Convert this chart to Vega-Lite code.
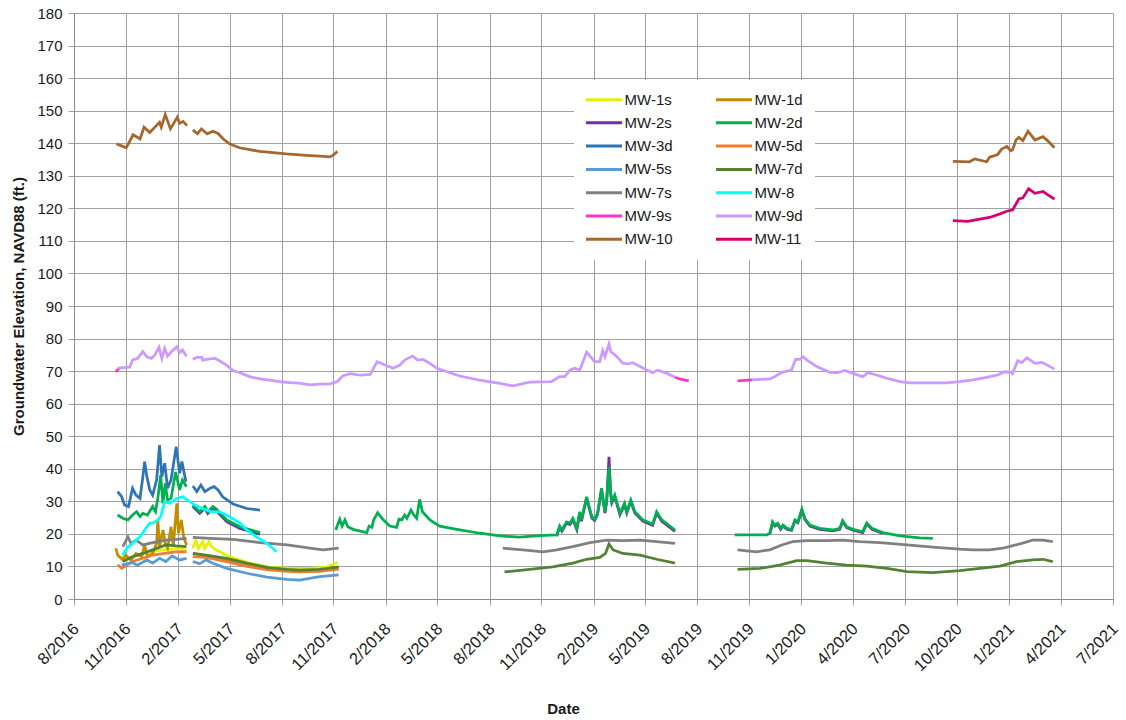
{
"$schema": "https://vega.github.io/schema/vega-lite/v6.json",
"width": 1039, "height": 586,
"autosize": {"type": "none"},
"padding": {"left": 74, "top": 13, "right": 13, "bottom": 121},
"background": "white",
"config": {"view": {"stroke": null}, "font": "Liberation Sans"},
"data": {"values": [
{"w":"MW-1s","s":1,"d":"2016-10-27","v":13.0},{"w":"MW-1s","s":1,"d":"2016-11-15","v":12.5},{"w":"MW-1s","s":1,"d":"2016-12-10","v":14.0},{"w":"MW-1s","s":1,"d":"2017-01-10","v":15.0},{"w":"MW-1s","s":1,"d":"2017-02-10","v":15.5},{"w":"MW-1s","s":1,"d":"2017-02-24","v":15.0},
{"w":"MW-1s","s":2,"d":"2017-03-07","v":15.6},{"w":"MW-1s","s":2,"d":"2017-03-12","v":18.1},{"w":"MW-1s","s":2,"d":"2017-03-17","v":15.6},{"w":"MW-1s","s":2,"d":"2017-03-24","v":17.6},{"w":"MW-1s","s":2,"d":"2017-03-28","v":15.6},{"w":"MW-1s","s":2,"d":"2017-04-04","v":17.6},{"w":"MW-1s","s":2,"d":"2017-04-09","v":16.1},{"w":"MW-1s","s":2,"d":"2017-04-16","v":15.1},{"w":"MW-1s","s":2,"d":"2017-04-23","v":14.5},{"w":"MW-1s","s":2,"d":"2017-05-10","v":13.0},{"w":"MW-1s","s":2,"d":"2017-06-14","v":11.0},{"w":"MW-1s","s":2,"d":"2017-07-19","v":9.8},{"w":"MW-1s","s":2,"d":"2017-08-23","v":9.4},{"w":"MW-1s","s":2,"d":"2017-09-27","v":9.4},{"w":"MW-1s","s":2,"d":"2017-10-26","v":9.8},{"w":"MW-1s","s":2,"d":"2017-11-14","v":11.3},
{"w":"MW-1d","s":1,"d":"2016-10-24","v":15.6},{"w":"MW-1d","s":1,"d":"2016-10-27","v":13.5},{"w":"MW-1d","s":1,"d":"2016-11-05","v":12.0},{"w":"MW-1d","s":1,"d":"2016-11-10","v":13.5},{"w":"MW-1d","s":1,"d":"2016-11-19","v":12.0},{"w":"MW-1d","s":1,"d":"2016-11-28","v":14.0},{"w":"MW-1d","s":1,"d":"2016-12-08","v":13.0},{"w":"MW-1d","s":1,"d":"2016-12-13","v":16.6},{"w":"MW-1d","s":1,"d":"2016-12-18","v":13.0},{"w":"MW-1d","s":1,"d":"2016-12-27","v":14.0},{"w":"MW-1d","s":1,"d":"2017-01-03","v":17.1},{"w":"MW-1d","s":1,"d":"2017-01-05","v":24.3},{"w":"MW-1d","s":1,"d":"2017-01-08","v":16.1},{"w":"MW-1d","s":1,"d":"2017-01-14","v":21.2},{"w":"MW-1d","s":1,"d":"2017-01-18","v":17.1},{"w":"MW-1d","s":1,"d":"2017-01-22","v":15.6},{"w":"MW-1d","s":1,"d":"2017-01-28","v":22.2},{"w":"MW-1d","s":1,"d":"2017-02-01","v":16.1},{"w":"MW-1d","s":1,"d":"2017-02-07","v":29.4},{"w":"MW-1d","s":1,"d":"2017-02-10","v":20.2},{"w":"MW-1d","s":1,"d":"2017-02-15","v":24.3},{"w":"MW-1d","s":1,"d":"2017-02-19","v":19.1},{"w":"MW-1d","s":1,"d":"2017-02-24","v":16.6},
{"w":"MW-1d","s":2,"d":"2017-03-07","v":14.0},{"w":"MW-1d","s":2,"d":"2017-03-30","v":13.3},{"w":"MW-1d","s":2,"d":"2017-05-05","v":12.0},{"w":"MW-1d","s":2,"d":"2017-06-09","v":10.7},{"w":"MW-1d","s":2,"d":"2017-07-14","v":9.4},{"w":"MW-1d","s":2,"d":"2017-08-18","v":8.9},{"w":"MW-1d","s":2,"d":"2017-09-09","v":8.7},{"w":"MW-1d","s":2,"d":"2017-10-14","v":8.9},{"w":"MW-1d","s":2,"d":"2017-11-16","v":9.5},
{"w":"MW-2s","s":1,"d":"2017-03-07","v":28.4},{"w":"MW-2s","s":1,"d":"2017-03-19","v":26.3},{"w":"MW-2s","s":1,"d":"2017-03-28","v":27.9},{"w":"MW-2s","s":1,"d":"2017-04-02","v":26.3},{"w":"MW-2s","s":1,"d":"2017-04-11","v":27.9},{"w":"MW-2s","s":1,"d":"2017-04-16","v":27.3},{"w":"MW-2s","s":1,"d":"2017-05-05","v":23.8},{"w":"MW-2s","s":1,"d":"2017-05-28","v":21.7},{"w":"MW-2s","s":1,"d":"2017-07-02","v":19.9},
{"w":"MW-2s","s":2,"d":"2018-12-01","v":19.3},{"w":"MW-2s","s":2,"d":"2018-12-06","v":22.0},{"w":"MW-2s","s":2,"d":"2018-12-10","v":20.8},{"w":"MW-2s","s":2,"d":"2018-12-18","v":23.3},{"w":"MW-2s","s":2,"d":"2018-12-24","v":22.9},{"w":"MW-2s","s":2,"d":"2018-12-29","v":24.4},{"w":"MW-2s","s":2,"d":"2019-01-05","v":21.3},{"w":"MW-2s","s":2,"d":"2019-01-10","v":26.4},{"w":"MW-2s","s":2,"d":"2019-01-13","v":23.9},{"w":"MW-2s","s":2,"d":"2019-01-22","v":31.0},{"w":"MW-2s","s":2,"d":"2019-01-31","v":24.9},{"w":"MW-2s","s":2,"d":"2019-02-05","v":24.1},{"w":"MW-2s","s":2,"d":"2019-02-10","v":25.9},{"w":"MW-2s","s":2,"d":"2019-02-17","v":33.6},{"w":"MW-2s","s":2,"d":"2019-02-23","v":26.4},{"w":"MW-2s","s":2,"d":"2019-02-26","v":30.0},{"w":"MW-2s","s":2,"d":"2019-03-02","v":43.7},{"w":"MW-2s","s":2,"d":"2019-03-05","v":32.1},{"w":"MW-2s","s":2,"d":"2019-03-07","v":29.5},{"w":"MW-2s","s":2,"d":"2019-03-12","v":31.5},{"w":"MW-2s","s":2,"d":"2019-03-21","v":25.9},{"w":"MW-2s","s":2,"d":"2019-03-29","v":29.0},{"w":"MW-2s","s":2,"d":"2019-04-02","v":26.4},{"w":"MW-2s","s":2,"d":"2019-04-09","v":30.0},{"w":"MW-2s","s":2,"d":"2019-04-16","v":26.4},{"w":"MW-2s","s":2,"d":"2019-04-30","v":23.9},{"w":"MW-2s","s":2,"d":"2019-05-17","v":22.6},{"w":"MW-2s","s":2,"d":"2019-05-24","v":26.4},{"w":"MW-2s","s":2,"d":"2019-06-02","v":23.9},{"w":"MW-2s","s":2,"d":"2019-06-25","v":20.8},
{"w":"MW-2s","s":3,"d":"2019-12-07","v":19.9},{"w":"MW-2s","s":3,"d":"2019-12-12","v":23.4},{"w":"MW-2s","s":3,"d":"2019-12-16","v":22.4},{"w":"MW-2s","s":3,"d":"2019-12-21","v":23.0},{"w":"MW-2s","s":3,"d":"2019-12-26","v":21.4},{"w":"MW-2s","s":3,"d":"2019-12-30","v":22.4},{"w":"MW-2s","s":3,"d":"2020-01-06","v":21.4},{"w":"MW-2s","s":3,"d":"2020-01-14","v":21.1},{"w":"MW-2s","s":3,"d":"2020-01-20","v":24.0},{"w":"MW-2s","s":3,"d":"2020-01-25","v":23.4},{"w":"MW-2s","s":3,"d":"2020-02-01","v":27.3},{"w":"MW-2s","s":3,"d":"2020-02-06","v":24.5},{"w":"MW-2s","s":3,"d":"2020-02-15","v":22.4},{"w":"MW-2s","s":3,"d":"2020-03-03","v":21.4},{"w":"MW-2s","s":3,"d":"2020-03-26","v":20.9},{"w":"MW-2s","s":3,"d":"2020-04-07","v":21.4},{"w":"MW-2s","s":3,"d":"2020-04-12","v":23.8},{"w":"MW-2s","s":3,"d":"2020-04-19","v":21.9},{"w":"MW-2s","s":3,"d":"2020-04-30","v":21.1},{"w":"MW-2s","s":3,"d":"2020-05-17","v":20.4},{"w":"MW-2s","s":3,"d":"2020-05-24","v":23.1},{"w":"MW-2s","s":3,"d":"2020-06-02","v":21.4},{"w":"MW-2s","s":3,"d":"2020-06-21","v":20.1},
{"w":"MW-2d","s":1,"d":"2016-10-27","v":25.8},{"w":"MW-2d","s":1,"d":"2016-11-05","v":24.8},{"w":"MW-2d","s":1,"d":"2016-11-14","v":24.3},{"w":"MW-2d","s":1,"d":"2016-11-22","v":25.8},{"w":"MW-2d","s":1,"d":"2016-11-29","v":26.8},{"w":"MW-2d","s":1,"d":"2016-12-05","v":25.3},{"w":"MW-2d","s":1,"d":"2016-12-10","v":26.3},{"w":"MW-2d","s":1,"d":"2016-12-18","v":25.8},{"w":"MW-2d","s":1,"d":"2016-12-27","v":28.4},{"w":"MW-2d","s":1,"d":"2017-01-01","v":26.8},{"w":"MW-2d","s":1,"d":"2017-01-05","v":30.9},{"w":"MW-2d","s":1,"d":"2017-01-10","v":38.0},{"w":"MW-2d","s":1,"d":"2017-01-14","v":29.4},{"w":"MW-2d","s":1,"d":"2017-01-18","v":35.5},{"w":"MW-2d","s":1,"d":"2017-01-22","v":30.4},{"w":"MW-2d","s":1,"d":"2017-01-28","v":30.9},{"w":"MW-2d","s":1,"d":"2017-02-05","v":39.0},{"w":"MW-2d","s":1,"d":"2017-02-12","v":33.5},{"w":"MW-2d","s":1,"d":"2017-02-17","v":36.6},{"w":"MW-2d","s":1,"d":"2017-02-24","v":34.5},
{"w":"MW-2d","s":2,"d":"2017-03-07","v":28.9},{"w":"MW-2d","s":2,"d":"2017-03-19","v":26.8},{"w":"MW-2d","s":2,"d":"2017-03-28","v":28.4},{"w":"MW-2d","s":2,"d":"2017-04-02","v":26.8},{"w":"MW-2d","s":2,"d":"2017-04-11","v":28.4},{"w":"MW-2d","s":2,"d":"2017-04-16","v":27.8},{"w":"MW-2d","s":2,"d":"2017-05-05","v":24.3},{"w":"MW-2d","s":2,"d":"2017-05-28","v":22.2},{"w":"MW-2d","s":2,"d":"2017-07-02","v":20.4},
{"w":"MW-2d","s":3,"d":"2017-11-11","v":21.2},{"w":"MW-2d","s":3,"d":"2017-11-14","v":22.7},{"w":"MW-2d","s":3,"d":"2017-11-18","v":24.5},{"w":"MW-2d","s":3,"d":"2017-11-22","v":22.4},{"w":"MW-2d","s":3,"d":"2017-11-27","v":24.3},{"w":"MW-2d","s":3,"d":"2017-12-02","v":22.2},{"w":"MW-2d","s":3,"d":"2017-12-11","v":21.4},{"w":"MW-2d","s":3,"d":"2018-01-04","v":20.4},{"w":"MW-2d","s":3,"d":"2018-01-08","v":22.4},{"w":"MW-2d","s":3,"d":"2018-01-13","v":22.0},{"w":"MW-2d","s":3,"d":"2018-01-16","v":24.3},{"w":"MW-2d","s":3,"d":"2018-01-23","v":26.5},{"w":"MW-2d","s":3,"d":"2018-02-01","v":24.5},{"w":"MW-2d","s":3,"d":"2018-02-13","v":22.4},{"w":"MW-2d","s":3,"d":"2018-02-25","v":22.0},{"w":"MW-2d","s":3,"d":"2018-03-01","v":24.5},{"w":"MW-2d","s":3,"d":"2018-03-06","v":24.3},{"w":"MW-2d","s":3,"d":"2018-03-11","v":25.8},{"w":"MW-2d","s":3,"d":"2018-03-15","v":24.8},{"w":"MW-2d","s":3,"d":"2018-03-22","v":27.3},{"w":"MW-2d","s":3,"d":"2018-03-27","v":25.8},{"w":"MW-2d","s":3,"d":"2018-04-01","v":24.8},{"w":"MW-2d","s":3,"d":"2018-04-06","v":30.6},{"w":"MW-2d","s":3,"d":"2018-04-11","v":26.8},{"w":"MW-2d","s":3,"d":"2018-04-24","v":24.3},{"w":"MW-2d","s":3,"d":"2018-05-11","v":22.4},{"w":"MW-2d","s":3,"d":"2018-06-10","v":21.4},{"w":"MW-2d","s":3,"d":"2018-07-20","v":20.2},{"w":"MW-2d","s":3,"d":"2018-08-24","v":19.4},{"w":"MW-2d","s":3,"d":"2018-09-27","v":19.0},{"w":"MW-2d","s":3,"d":"2018-10-20","v":19.3},{"w":"MW-2d","s":3,"d":"2018-11-19","v":19.6},{"w":"MW-2d","s":3,"d":"2018-12-01","v":19.7},{"w":"MW-2d","s":3,"d":"2018-12-06","v":22.4},{"w":"MW-2d","s":3,"d":"2018-12-10","v":21.2},{"w":"MW-2d","s":3,"d":"2018-12-18","v":23.7},{"w":"MW-2d","s":3,"d":"2018-12-24","v":23.3},{"w":"MW-2d","s":3,"d":"2018-12-29","v":24.8},{"w":"MW-2d","s":3,"d":"2019-01-05","v":21.7},{"w":"MW-2d","s":3,"d":"2019-01-10","v":26.8},{"w":"MW-2d","s":3,"d":"2019-01-13","v":24.3},{"w":"MW-2d","s":3,"d":"2019-01-22","v":31.4},{"w":"MW-2d","s":3,"d":"2019-01-31","v":25.3},{"w":"MW-2d","s":3,"d":"2019-02-05","v":24.5},{"w":"MW-2d","s":3,"d":"2019-02-10","v":26.3},{"w":"MW-2d","s":3,"d":"2019-02-17","v":34.0},{"w":"MW-2d","s":3,"d":"2019-02-23","v":26.8},{"w":"MW-2d","s":3,"d":"2019-02-26","v":30.4},{"w":"MW-2d","s":3,"d":"2019-03-02","v":40.6},{"w":"MW-2d","s":3,"d":"2019-03-05","v":32.5},{"w":"MW-2d","s":3,"d":"2019-03-07","v":29.9},{"w":"MW-2d","s":3,"d":"2019-03-12","v":31.9},{"w":"MW-2d","s":3,"d":"2019-03-21","v":26.3},{"w":"MW-2d","s":3,"d":"2019-03-29","v":29.4},{"w":"MW-2d","s":3,"d":"2019-04-02","v":26.8},{"w":"MW-2d","s":3,"d":"2019-04-09","v":30.4},{"w":"MW-2d","s":3,"d":"2019-04-16","v":26.8},{"w":"MW-2d","s":3,"d":"2019-04-30","v":24.3},{"w":"MW-2d","s":3,"d":"2019-05-17","v":23.0},{"w":"MW-2d","s":3,"d":"2019-05-24","v":26.8},{"w":"MW-2d","s":3,"d":"2019-06-02","v":24.3},{"w":"MW-2d","s":3,"d":"2019-06-25","v":21.2},
{"w":"MW-2d","s":4,"d":"2019-10-07","v":19.7},{"w":"MW-2d","s":4,"d":"2019-12-02","v":19.7},{"w":"MW-2d","s":4,"d":"2019-12-07","v":20.2},{"w":"MW-2d","s":4,"d":"2019-12-12","v":23.7},{"w":"MW-2d","s":4,"d":"2019-12-16","v":22.7},{"w":"MW-2d","s":4,"d":"2019-12-21","v":23.3},{"w":"MW-2d","s":4,"d":"2019-12-26","v":21.7},{"w":"MW-2d","s":4,"d":"2019-12-30","v":22.7},{"w":"MW-2d","s":4,"d":"2020-01-06","v":21.7},{"w":"MW-2d","s":4,"d":"2020-01-14","v":21.4},{"w":"MW-2d","s":4,"d":"2020-01-20","v":24.3},{"w":"MW-2d","s":4,"d":"2020-01-25","v":23.7},{"w":"MW-2d","s":4,"d":"2020-02-01","v":27.6},{"w":"MW-2d","s":4,"d":"2020-02-06","v":24.8},{"w":"MW-2d","s":4,"d":"2020-02-15","v":22.7},{"w":"MW-2d","s":4,"d":"2020-03-03","v":21.7},{"w":"MW-2d","s":4,"d":"2020-03-26","v":21.2},{"w":"MW-2d","s":4,"d":"2020-04-07","v":21.7},{"w":"MW-2d","s":4,"d":"2020-04-12","v":24.1},{"w":"MW-2d","s":4,"d":"2020-04-19","v":22.2},{"w":"MW-2d","s":4,"d":"2020-04-30","v":21.4},{"w":"MW-2d","s":4,"d":"2020-05-17","v":20.7},{"w":"MW-2d","s":4,"d":"2020-05-24","v":23.4},{"w":"MW-2d","s":4,"d":"2020-06-02","v":21.7},{"w":"MW-2d","s":4,"d":"2020-06-21","v":20.4},{"w":"MW-2d","s":4,"d":"2020-07-21","v":19.4},{"w":"MW-2d","s":4,"d":"2020-08-24","v":18.8},{"w":"MW-2d","s":4,"d":"2020-09-16","v":18.6},
{"w":"MW-3d","s":1,"d":"2016-10-27","v":33.0},{"w":"MW-3d","s":1,"d":"2016-11-03","v":31.4},{"w":"MW-3d","s":1,"d":"2016-11-08","v":28.9},{"w":"MW-3d","s":1,"d":"2016-11-15","v":28.4},{"w":"MW-3d","s":1,"d":"2016-11-22","v":34.0},{"w":"MW-3d","s":1,"d":"2016-11-28","v":31.9},{"w":"MW-3d","s":1,"d":"2016-12-05","v":30.9},{"w":"MW-3d","s":1,"d":"2016-12-10","v":37.6},{"w":"MW-3d","s":1,"d":"2016-12-13","v":42.2},{"w":"MW-3d","s":1,"d":"2016-12-17","v":37.6},{"w":"MW-3d","s":1,"d":"2016-12-22","v":33.5},{"w":"MW-3d","s":1,"d":"2016-12-27","v":31.9},{"w":"MW-3d","s":1,"d":"2017-01-03","v":36.6},{"w":"MW-3d","s":1,"d":"2017-01-08","v":47.3},{"w":"MW-3d","s":1,"d":"2017-01-12","v":37.6},{"w":"MW-3d","s":1,"d":"2017-01-17","v":41.7},{"w":"MW-3d","s":1,"d":"2017-01-22","v":34.0},{"w":"MW-3d","s":1,"d":"2017-01-28","v":36.6},{"w":"MW-3d","s":1,"d":"2017-02-06","v":46.8},{"w":"MW-3d","s":1,"d":"2017-02-12","v":38.6},{"w":"MW-3d","s":1,"d":"2017-02-16","v":42.2},{"w":"MW-3d","s":1,"d":"2017-02-23","v":36.0},
{"w":"MW-3d","s":2,"d":"2017-03-07","v":34.7},{"w":"MW-3d","s":2,"d":"2017-03-14","v":33.0},{"w":"MW-3d","s":2,"d":"2017-03-21","v":35.0},{"w":"MW-3d","s":2,"d":"2017-03-28","v":33.0},{"w":"MW-3d","s":2,"d":"2017-04-06","v":34.0},{"w":"MW-3d","s":2,"d":"2017-04-13","v":34.5},{"w":"MW-3d","s":2,"d":"2017-04-20","v":33.5},{"w":"MW-3d","s":2,"d":"2017-04-28","v":31.4},{"w":"MW-3d","s":2,"d":"2017-05-16","v":29.2},{"w":"MW-3d","s":2,"d":"2017-06-09","v":27.8},{"w":"MW-3d","s":2,"d":"2017-07-02","v":27.3},
{"w":"MW-5d","s":1,"d":"2016-10-27","v":10.5},{"w":"MW-5d","s":1,"d":"2016-11-03","v":9.4},{"w":"MW-5d","s":1,"d":"2016-11-10","v":10.2},{"w":"MW-5d","s":1,"d":"2016-11-22","v":11.5},{"w":"MW-5d","s":1,"d":"2016-12-10","v":12.5},{"w":"MW-5d","s":1,"d":"2016-12-27","v":13.5},{"w":"MW-5d","s":1,"d":"2017-01-17","v":14.0},{"w":"MW-5d","s":1,"d":"2017-02-05","v":14.5},{"w":"MW-5d","s":1,"d":"2017-02-24","v":14.5},
{"w":"MW-5d","s":2,"d":"2017-03-07","v":13.0},{"w":"MW-5d","s":2,"d":"2017-03-30","v":12.8},{"w":"MW-5d","s":2,"d":"2017-05-05","v":11.5},{"w":"MW-5d","s":2,"d":"2017-06-09","v":10.0},{"w":"MW-5d","s":2,"d":"2017-07-14","v":9.0},{"w":"MW-5d","s":2,"d":"2017-08-18","v":8.5},{"w":"MW-5d","s":2,"d":"2017-09-09","v":8.3},{"w":"MW-5d","s":2,"d":"2017-10-14","v":8.5},{"w":"MW-5d","s":2,"d":"2017-11-16","v":9.2},
{"w":"MW-5s","s":1,"d":"2016-11-03","v":10.4},{"w":"MW-5s","s":1,"d":"2016-11-22","v":11.2},{"w":"MW-5s","s":1,"d":"2016-11-30","v":10.4},{"w":"MW-5s","s":1,"d":"2016-12-17","v":12.0},{"w":"MW-5s","s":1,"d":"2016-12-27","v":11.0},{"w":"MW-5s","s":1,"d":"2017-01-08","v":12.5},{"w":"MW-5s","s":1,"d":"2017-01-19","v":11.5},{"w":"MW-5s","s":1,"d":"2017-01-30","v":13.2},{"w":"MW-5s","s":1,"d":"2017-02-12","v":12.0},{"w":"MW-5s","s":1,"d":"2017-02-24","v":12.5},
{"w":"MW-5s","s":2,"d":"2017-03-07","v":11.5},{"w":"MW-5s","s":2,"d":"2017-03-19","v":10.8},{"w":"MW-5s","s":2,"d":"2017-03-30","v":12.0},{"w":"MW-5s","s":2,"d":"2017-04-11","v":11.0},{"w":"MW-5s","s":2,"d":"2017-05-05","v":9.4},{"w":"MW-5s","s":2,"d":"2017-06-09","v":7.9},{"w":"MW-5s","s":2,"d":"2017-07-14","v":6.7},{"w":"MW-5s","s":2,"d":"2017-08-18","v":6.0},{"w":"MW-5s","s":2,"d":"2017-09-09","v":5.8},{"w":"MW-5s","s":2,"d":"2017-10-14","v":6.9},{"w":"MW-5s","s":2,"d":"2017-11-16","v":7.4},
{"w":"MW-7d","s":1,"d":"2016-11-05","v":11.5},{"w":"MW-7d","s":1,"d":"2016-11-22","v":13.0},{"w":"MW-7d","s":1,"d":"2016-12-10","v":14.0},{"w":"MW-7d","s":1,"d":"2016-12-27","v":15.1},{"w":"MW-7d","s":1,"d":"2017-01-19","v":16.6},{"w":"MW-7d","s":1,"d":"2017-02-06","v":16.3},{"w":"MW-7d","s":1,"d":"2017-02-24","v":16.1},
{"w":"MW-7d","s":2,"d":"2017-03-07","v":14.0},{"w":"MW-7d","s":2,"d":"2017-03-30","v":13.5},{"w":"MW-7d","s":2,"d":"2017-05-05","v":12.5},{"w":"MW-7d","s":2,"d":"2017-06-09","v":11.0},{"w":"MW-7d","s":2,"d":"2017-07-14","v":9.7},{"w":"MW-7d","s":2,"d":"2017-08-18","v":9.1},{"w":"MW-7d","s":2,"d":"2017-09-09","v":8.9},{"w":"MW-7d","s":2,"d":"2017-10-14","v":9.1},{"w":"MW-7d","s":2,"d":"2017-11-16","v":9.9},
{"w":"MW-7d","s":3,"d":"2018-09-01","v":8.3},{"w":"MW-7d","s":3,"d":"2018-10-15","v":9.1},{"w":"MW-7d","s":3,"d":"2018-11-24","v":9.9},{"w":"MW-7d","s":3,"d":"2018-12-29","v":11.0},{"w":"MW-7d","s":3,"d":"2019-01-22","v":12.2},{"w":"MW-7d","s":3,"d":"2019-02-14","v":12.8},{"w":"MW-7d","s":3,"d":"2019-02-24","v":14.0},{"w":"MW-7d","s":3,"d":"2019-03-02","v":16.9},{"w":"MW-7d","s":3,"d":"2019-03-09","v":15.1},{"w":"MW-7d","s":3,"d":"2019-03-26","v":14.0},{"w":"MW-7d","s":3,"d":"2019-04-25","v":13.5},{"w":"MW-7d","s":3,"d":"2019-05-24","v":12.2},{"w":"MW-7d","s":3,"d":"2019-06-25","v":11.0},
{"w":"MW-7d","s":4,"d":"2019-10-12","v":9.1},{"w":"MW-7d","s":4,"d":"2019-11-20","v":9.4},{"w":"MW-7d","s":4,"d":"2019-12-24","v":10.4},{"w":"MW-7d","s":4,"d":"2020-01-23","v":11.8},{"w":"MW-7d","s":4,"d":"2020-02-10","v":11.8},{"w":"MW-7d","s":4,"d":"2020-03-15","v":11.0},{"w":"MW-7d","s":4,"d":"2020-04-19","v":10.4},{"w":"MW-7d","s":4,"d":"2020-05-24","v":10.1},{"w":"MW-7d","s":4,"d":"2020-06-28","v":9.4},{"w":"MW-7d","s":4,"d":"2020-08-02","v":8.4},{"w":"MW-7d","s":4,"d":"2020-09-16","v":8.1},{"w":"MW-7d","s":4,"d":"2020-11-02","v":8.7},{"w":"MW-7d","s":4,"d":"2020-12-07","v":9.4},{"w":"MW-7d","s":4,"d":"2021-01-11","v":10.1},{"w":"MW-7d","s":4,"d":"2021-02-09","v":11.5},{"w":"MW-7d","s":4,"d":"2021-03-09","v":12.0},{"w":"MW-7d","s":4,"d":"2021-03-27","v":12.2},{"w":"MW-7d","s":4,"d":"2021-04-13","v":11.5},
{"w":"MW-7s","s":1,"d":"2016-11-05","v":16.1},{"w":"MW-7s","s":1,"d":"2016-11-14","v":19.1},{"w":"MW-7s","s":1,"d":"2016-11-19","v":17.1},{"w":"MW-7s","s":1,"d":"2016-11-28","v":18.1},{"w":"MW-7s","s":1,"d":"2016-12-10","v":16.6},{"w":"MW-7s","s":1,"d":"2016-12-27","v":17.3},{"w":"MW-7s","s":1,"d":"2017-01-19","v":18.1},{"w":"MW-7s","s":1,"d":"2017-02-06","v":18.3},{"w":"MW-7s","s":1,"d":"2017-02-24","v":18.6},
{"w":"MW-7s","s":2,"d":"2017-03-07","v":18.9},{"w":"MW-7s","s":2,"d":"2017-04-06","v":18.6},{"w":"MW-7s","s":2,"d":"2017-05-16","v":18.3},{"w":"MW-7s","s":2,"d":"2017-07-02","v":17.3},{"w":"MW-7s","s":2,"d":"2017-08-18","v":16.6},{"w":"MW-7s","s":2,"d":"2017-09-09","v":16.1},{"w":"MW-7s","s":2,"d":"2017-09-27","v":15.6},{"w":"MW-7s","s":2,"d":"2017-10-20","v":15.1},{"w":"MW-7s","s":2,"d":"2017-11-16","v":15.6},
{"w":"MW-7s","s":3,"d":"2018-08-29","v":15.6},{"w":"MW-7s","s":3,"d":"2018-10-03","v":15.1},{"w":"MW-7s","s":3,"d":"2018-11-07","v":14.5},{"w":"MW-7s","s":3,"d":"2018-12-01","v":15.1},{"w":"MW-7s","s":3,"d":"2018-12-29","v":16.1},{"w":"MW-7s","s":3,"d":"2019-01-28","v":17.3},{"w":"MW-7s","s":3,"d":"2019-02-26","v":18.1},{"w":"MW-7s","s":3,"d":"2019-03-26","v":17.9},{"w":"MW-7s","s":3,"d":"2019-04-25","v":18.1},{"w":"MW-7s","s":3,"d":"2019-05-24","v":17.6},{"w":"MW-7s","s":3,"d":"2019-06-25","v":17.1},
{"w":"MW-7s","s":4,"d":"2019-10-12","v":15.1},{"w":"MW-7s","s":4,"d":"2019-11-14","v":14.5},{"w":"MW-7s","s":4,"d":"2019-12-07","v":15.1},{"w":"MW-7s","s":4,"d":"2019-12-28","v":16.6},{"w":"MW-7s","s":4,"d":"2020-01-16","v":17.6},{"w":"MW-7s","s":4,"d":"2020-02-10","v":17.9},{"w":"MW-7s","s":4,"d":"2020-03-15","v":17.9},{"w":"MW-7s","s":4,"d":"2020-04-12","v":18.1},{"w":"MW-7s","s":4,"d":"2020-05-12","v":17.6},{"w":"MW-7s","s":4,"d":"2020-06-16","v":17.3},{"w":"MW-7s","s":4,"d":"2020-08-02","v":16.6},{"w":"MW-7s","s":4,"d":"2020-09-16","v":15.9},{"w":"MW-7s","s":4,"d":"2020-11-02","v":15.3},{"w":"MW-7s","s":4,"d":"2020-11-25","v":15.1},{"w":"MW-7s","s":4,"d":"2020-12-24","v":15.1},{"w":"MW-7s","s":4,"d":"2021-01-16","v":15.6},{"w":"MW-7s","s":4,"d":"2021-02-01","v":16.3},{"w":"MW-7s","s":4,"d":"2021-02-18","v":17.1},{"w":"MW-7s","s":4,"d":"2021-03-09","v":18.1},{"w":"MW-7s","s":4,"d":"2021-03-27","v":18.1},{"w":"MW-7s","s":4,"d":"2021-04-13","v":17.6},
{"w":"MW-8","s":1,"d":"2016-11-05","v":13.5},{"w":"MW-8","s":1,"d":"2016-11-12","v":15.6},{"w":"MW-8","s":1,"d":"2016-11-22","v":17.1},{"w":"MW-8","s":1,"d":"2016-12-05","v":19.1},{"w":"MW-8","s":1,"d":"2016-12-17","v":22.2},{"w":"MW-8","s":1,"d":"2016-12-22","v":23.3},{"w":"MW-8","s":1,"d":"2016-12-27","v":23.3},{"w":"MW-8","s":1,"d":"2017-01-05","v":24.3},{"w":"MW-8","s":1,"d":"2017-01-10","v":25.3},{"w":"MW-8","s":1,"d":"2017-01-17","v":29.9},{"w":"MW-8","s":1,"d":"2017-01-26","v":29.4},{"w":"MW-8","s":1,"d":"2017-02-07","v":30.9},{"w":"MW-8","s":1,"d":"2017-02-18","v":31.4},{"w":"MW-8","s":1,"d":"2017-02-26","v":30.4},{"w":"MW-8","s":1,"d":"2017-03-10","v":28.9},{"w":"MW-8","s":1,"d":"2017-03-24","v":27.8},{"w":"MW-8","s":1,"d":"2017-04-08","v":26.8},{"w":"MW-8","s":1,"d":"2017-04-23","v":26.8},{"w":"MW-8","s":1,"d":"2017-05-10","v":25.3},{"w":"MW-8","s":1,"d":"2017-05-28","v":23.3},{"w":"MW-8","s":1,"d":"2017-06-09","v":21.2},{"w":"MW-8","s":1,"d":"2017-06-26","v":19.1},{"w":"MW-8","s":1,"d":"2017-07-14","v":17.1},{"w":"MW-8","s":1,"d":"2017-07-31","v":14.5},
{"w":"MW-9s","s":1,"d":"2016-10-24","v":69.8},{"w":"MW-9s","s":1,"d":"2016-10-31","v":71.0},
{"w":"MW-9s","s":2,"d":"2019-06-25","v":68.1},{"w":"MW-9s","s":2,"d":"2019-07-03","v":67.6},{"w":"MW-9s","s":2,"d":"2019-07-19","v":67.0},
{"w":"MW-9s","s":3,"d":"2019-10-12","v":67.0},{"w":"MW-9s","s":3,"d":"2019-11-06","v":67.3},
{"w":"MW-9d","s":1,"d":"2016-10-27","v":70.9},{"w":"MW-9d","s":1,"d":"2016-11-17","v":71.2},{"w":"MW-9d","s":1,"d":"2016-11-22","v":73.4},{"w":"MW-9d","s":1,"d":"2016-12-01","v":73.9},{"w":"MW-9d","s":1,"d":"2016-12-10","v":76.0},{"w":"MW-9d","s":1,"d":"2016-12-17","v":74.4},{"w":"MW-9d","s":1,"d":"2016-12-25","v":73.9},{"w":"MW-9d","s":1,"d":"2016-12-31","v":75.0},{"w":"MW-9d","s":1,"d":"2017-01-07","v":77.3},{"w":"MW-9d","s":1,"d":"2017-01-12","v":73.9},{"w":"MW-9d","s":1,"d":"2017-01-17","v":77.0},{"w":"MW-9d","s":1,"d":"2017-01-22","v":74.6},{"w":"MW-9d","s":1,"d":"2017-01-29","v":76.0},{"w":"MW-9d","s":1,"d":"2017-02-07","v":77.5},{"w":"MW-9d","s":1,"d":"2017-02-12","v":75.7},{"w":"MW-9d","s":1,"d":"2017-02-17","v":76.5},{"w":"MW-9d","s":1,"d":"2017-02-24","v":74.6},
{"w":"MW-9d","s":2,"d":"2017-03-07","v":73.6},{"w":"MW-9d","s":2,"d":"2017-03-14","v":74.2},{"w":"MW-9d","s":2,"d":"2017-03-23","v":74.2},{"w":"MW-9d","s":2,"d":"2017-03-24","v":73.4},{"w":"MW-9d","s":2,"d":"2017-04-02","v":73.7},{"w":"MW-9d","s":2,"d":"2017-04-15","v":73.9},{"w":"MW-9d","s":2,"d":"2017-04-23","v":73.1},{"w":"MW-9d","s":2,"d":"2017-05-05","v":71.8},{"w":"MW-9d","s":2,"d":"2017-05-16","v":70.2},{"w":"MW-9d","s":2,"d":"2017-05-28","v":69.5},{"w":"MW-9d","s":2,"d":"2017-06-14","v":68.3},{"w":"MW-9d","s":2,"d":"2017-07-02","v":67.6},{"w":"MW-9d","s":2,"d":"2017-07-19","v":67.2},{"w":"MW-9d","s":2,"d":"2017-08-05","v":66.8},{"w":"MW-9d","s":2,"d":"2017-08-23","v":66.5},{"w":"MW-9d","s":2,"d":"2017-09-09","v":66.3},{"w":"MW-9d","s":2,"d":"2017-09-27","v":65.8},{"w":"MW-9d","s":2,"d":"2017-10-14","v":66.0},{"w":"MW-9d","s":2,"d":"2017-11-01","v":66.1},{"w":"MW-9d","s":2,"d":"2017-11-14","v":66.8},{"w":"MW-9d","s":2,"d":"2017-11-23","v":68.5},{"w":"MW-9d","s":2,"d":"2017-12-06","v":69.2},{"w":"MW-9d","s":2,"d":"2017-12-23","v":68.8},{"w":"MW-9d","s":2,"d":"2018-01-10","v":69.0},{"w":"MW-9d","s":2,"d":"2018-01-22","v":72.9},{"w":"MW-9d","s":2,"d":"2018-02-05","v":71.9},{"w":"MW-9d","s":2,"d":"2018-02-19","v":70.9},{"w":"MW-9d","s":2,"d":"2018-03-03","v":71.9},{"w":"MW-9d","s":2,"d":"2018-03-11","v":73.4},{"w":"MW-9d","s":2,"d":"2018-03-25","v":74.6},{"w":"MW-9d","s":2,"d":"2018-04-03","v":73.4},{"w":"MW-9d","s":2,"d":"2018-04-12","v":73.6},{"w":"MW-9d","s":2,"d":"2018-04-24","v":72.4},{"w":"MW-9d","s":2,"d":"2018-05-06","v":70.9},{"w":"MW-9d","s":2,"d":"2018-05-29","v":69.5},{"w":"MW-9d","s":2,"d":"2018-06-15","v":68.5},{"w":"MW-9d","s":2,"d":"2018-07-20","v":67.2},{"w":"MW-9d","s":2,"d":"2018-08-24","v":66.2},{"w":"MW-9d","s":2,"d":"2018-09-15","v":65.5},{"w":"MW-9d","s":2,"d":"2018-10-15","v":66.6},{"w":"MW-9d","s":2,"d":"2018-11-22","v":66.8},{"w":"MW-9d","s":2,"d":"2018-12-06","v":68.3},{"w":"MW-9d","s":2,"d":"2018-12-15","v":68.3},{"w":"MW-9d","s":2,"d":"2018-12-24","v":70.3},{"w":"MW-9d","s":2,"d":"2019-01-01","v":70.9},{"w":"MW-9d","s":2,"d":"2019-01-10","v":70.3},{"w":"MW-9d","s":2,"d":"2019-01-22","v":75.8},{"w":"MW-9d","s":2,"d":"2019-02-05","v":72.9},{"w":"MW-9d","s":2,"d":"2019-02-14","v":72.9},{"w":"MW-9d","s":2,"d":"2019-02-19","v":76.3},{"w":"MW-9d","s":2,"d":"2019-02-23","v":74.4},{"w":"MW-9d","s":2,"d":"2019-03-02","v":78.3},{"w":"MW-9d","s":2,"d":"2019-03-05","v":76.0},{"w":"MW-9d","s":2,"d":"2019-03-16","v":74.4},{"w":"MW-9d","s":2,"d":"2019-03-26","v":72.4},{"w":"MW-9d","s":2,"d":"2019-04-04","v":72.2},{"w":"MW-9d","s":2,"d":"2019-04-12","v":72.6},{"w":"MW-9d","s":2,"d":"2019-04-25","v":71.4},{"w":"MW-9d","s":2,"d":"2019-05-07","v":70.3},{"w":"MW-9d","s":2,"d":"2019-05-17","v":69.5},{"w":"MW-9d","s":2,"d":"2019-05-26","v":70.3},{"w":"MW-9d","s":2,"d":"2019-06-11","v":69.3},{"w":"MW-9d","s":2,"d":"2019-06-25","v":68.1},
{"w":"MW-9d","s":3,"d":"2019-11-06","v":67.3},{"w":"MW-9d","s":3,"d":"2019-12-07","v":67.6},{"w":"MW-9d","s":3,"d":"2019-12-16","v":68.3},{"w":"MW-9d","s":3,"d":"2019-12-28","v":69.6},{"w":"MW-9d","s":3,"d":"2020-01-14","v":70.3},{"w":"MW-9d","s":3,"d":"2020-01-21","v":73.6},{"w":"MW-9d","s":3,"d":"2020-01-28","v":73.6},{"w":"MW-9d","s":3,"d":"2020-02-03","v":74.4},{"w":"MW-9d","s":3,"d":"2020-02-10","v":73.4},{"w":"MW-9d","s":3,"d":"2020-02-27","v":71.4},{"w":"MW-9d","s":3,"d":"2020-03-21","v":69.6},{"w":"MW-9d","s":3,"d":"2020-04-03","v":69.5},{"w":"MW-9d","s":3,"d":"2020-04-16","v":70.2},{"w":"MW-9d","s":3,"d":"2020-04-30","v":69.3},{"w":"MW-9d","s":3,"d":"2020-05-17","v":68.3},{"w":"MW-9d","s":3,"d":"2020-05-26","v":69.5},{"w":"MW-9d","s":3,"d":"2020-06-10","v":68.8},{"w":"MW-9d","s":3,"d":"2020-06-28","v":67.8},{"w":"MW-9d","s":3,"d":"2020-07-21","v":66.8},{"w":"MW-9d","s":3,"d":"2020-08-07","v":66.4},{"w":"MW-9d","s":3,"d":"2020-09-05","v":66.4},{"w":"MW-9d","s":3,"d":"2020-10-10","v":66.4},{"w":"MW-9d","s":3,"d":"2020-11-02","v":66.8},{"w":"MW-9d","s":3,"d":"2020-11-25","v":67.3},{"w":"MW-9d","s":3,"d":"2020-12-19","v":68.1},{"w":"MW-9d","s":3,"d":"2021-01-07","v":68.8},{"w":"MW-9d","s":3,"d":"2021-01-19","v":69.8},{"w":"MW-9d","s":3,"d":"2021-02-01","v":69.6},{"w":"MW-9d","s":3,"d":"2021-02-02","v":69.3},{"w":"MW-9d","s":3,"d":"2021-02-11","v":73.2},{"w":"MW-9d","s":3,"d":"2021-02-18","v":72.6},{"w":"MW-9d","s":3,"d":"2021-02-27","v":74.1},{"w":"MW-9d","s":3,"d":"2021-03-13","v":72.4},{"w":"MW-9d","s":3,"d":"2021-03-25","v":72.7},{"w":"MW-9d","s":3,"d":"2021-04-03","v":71.9},{"w":"MW-9d","s":3,"d":"2021-04-16","v":70.6},
{"w":"MW-10","s":1,"d":"2016-10-25","v":139.8},{"w":"MW-10","s":1,"d":"2016-11-11","v":138.6},{"w":"MW-10","s":1,"d":"2016-11-23","v":142.6},{"w":"MW-10","s":1,"d":"2016-12-05","v":141.3},{"w":"MW-10","s":1,"d":"2016-12-12","v":144.9},{"w":"MW-10","s":1,"d":"2016-12-22","v":143.3},{"w":"MW-10","s":1,"d":"2017-01-08","v":146.4},{"w":"MW-10","s":1,"d":"2017-01-11","v":144.9},{"w":"MW-10","s":1,"d":"2017-01-18","v":148.8},{"w":"MW-10","s":1,"d":"2017-01-27","v":144.4},{"w":"MW-10","s":1,"d":"2017-02-08","v":148.0},{"w":"MW-10","s":1,"d":"2017-02-12","v":146.1},{"w":"MW-10","s":1,"d":"2017-02-18","v":146.7},{"w":"MW-10","s":1,"d":"2017-02-25","v":145.4},
{"w":"MW-10","s":2,"d":"2017-03-07","v":144.1},{"w":"MW-10","s":2,"d":"2017-03-15","v":142.9},{"w":"MW-10","s":2,"d":"2017-03-22","v":144.4},{"w":"MW-10","s":2,"d":"2017-04-01","v":142.9},{"w":"MW-10","s":2,"d":"2017-04-11","v":143.7},{"w":"MW-10","s":2,"d":"2017-04-20","v":143.0},{"w":"MW-10","s":2,"d":"2017-04-29","v":141.3},{"w":"MW-10","s":2,"d":"2017-05-10","v":139.8},{"w":"MW-10","s":2,"d":"2017-05-27","v":138.6},{"w":"MW-10","s":2,"d":"2017-07-01","v":137.5},{"w":"MW-10","s":2,"d":"2017-08-17","v":136.7},{"w":"MW-10","s":2,"d":"2017-09-21","v":136.3},{"w":"MW-10","s":2,"d":"2017-10-14","v":136.0},{"w":"MW-10","s":2,"d":"2017-11-01","v":135.8},{"w":"MW-10","s":2,"d":"2017-11-07","v":136.4},{"w":"MW-10","s":2,"d":"2017-11-14","v":137.5},
{"w":"MW-10","s":3,"d":"2020-10-21","v":134.4},{"w":"MW-10","s":3,"d":"2020-11-19","v":134.3},{"w":"MW-10","s":3,"d":"2020-11-28","v":135.2},{"w":"MW-10","s":3,"d":"2020-12-19","v":134.3},{"w":"MW-10","s":3,"d":"2020-12-24","v":135.7},{"w":"MW-10","s":3,"d":"2021-01-02","v":136.2},{"w":"MW-10","s":3,"d":"2021-01-07","v":136.5},{"w":"MW-10","s":3,"d":"2021-01-14","v":138.2},{"w":"MW-10","s":3,"d":"2021-01-23","v":139.0},{"w":"MW-10","s":3,"d":"2021-01-30","v":137.7},{"w":"MW-10","s":3,"d":"2021-02-02","v":138.0},{"w":"MW-10","s":3,"d":"2021-02-08","v":141.0},{"w":"MW-10","s":3,"d":"2021-02-13","v":141.8},{"w":"MW-10","s":3,"d":"2021-02-20","v":140.8},{"w":"MW-10","s":3,"d":"2021-03-01","v":143.7},{"w":"MW-10","s":3,"d":"2021-03-13","v":141.0},{"w":"MW-10","s":3,"d":"2021-03-27","v":142.0},{"w":"MW-10","s":3,"d":"2021-04-04","v":140.8},{"w":"MW-10","s":3,"d":"2021-04-16","v":138.6},
{"w":"MW-11","s":1,"d":"2020-10-21","v":116.2},{"w":"MW-11","s":1,"d":"2020-11-16","v":116.0},{"w":"MW-11","s":1,"d":"2020-12-07","v":116.7},{"w":"MW-11","s":1,"d":"2020-12-24","v":117.2},{"w":"MW-11","s":1,"d":"2021-01-11","v":118.3},{"w":"MW-11","s":1,"d":"2021-01-23","v":119.1},{"w":"MW-11","s":1,"d":"2021-02-02","v":119.5},{"w":"MW-11","s":1,"d":"2021-02-13","v":122.9},{"w":"MW-11","s":1,"d":"2021-02-20","v":123.2},{"w":"MW-11","s":1,"d":"2021-03-02","v":126.0},{"w":"MW-11","s":1,"d":"2021-03-13","v":124.6},{"w":"MW-11","s":1,"d":"2021-03-27","v":125.2},{"w":"MW-11","s":1,"d":"2021-04-04","v":124.2},{"w":"MW-11","s":1,"d":"2021-04-16","v":122.8}
]},
"mark": {"type": "line", "strokeWidth": 2.75},
"encoding": {
  "x": {"field": "d", "type": "temporal",
    "scale": {"type": "utc", "domain": [{"year":2016,"month":8,"date":12,"utc":true},{"year":2021,"month":7,"date":27,"utc":true}]},
    "axis": {"values": [{"year":2016,"month":8,"date":12,"utc":true},{"year":2016,"month":11,"date":10,"utc":true},{"year":2017,"month":2,"date":9,"utc":true},{"year":2017,"month":5,"date":10,"utc":true},{"year":2017,"month":8,"date":9,"utc":true},{"year":2017,"month":11,"date":7,"utc":true},{"year":2018,"month":2,"date":6,"utc":true},{"year":2018,"month":5,"date":7,"utc":true},{"year":2018,"month":8,"date":6,"utc":true},{"year":2018,"month":11,"date":4,"utc":true},{"year":2019,"month":2,"date":3,"utc":true},{"year":2019,"month":5,"date":4,"utc":true},{"year":2019,"month":8,"date":3,"utc":true},{"year":2019,"month":11,"date":1,"utc":true},{"year":2020,"month":1,"date":31,"utc":true},{"year":2020,"month":4,"date":30,"utc":true},{"year":2020,"month":7,"date":30,"utc":true},{"year":2020,"month":10,"date":28,"utc":true},{"year":2021,"month":1,"date":27,"utc":true},{"year":2021,"month":4,"date":27,"utc":true},{"year":2021,"month":7,"date":27,"utc":true}],
      "labelExpr": "utcFormat(datum.value, '%-m/%Y')",
      "labelAngle": -45, "labelAlign": "right", "labelBaseline": "middle",
      "labelFontSize": 16.5, "labelColor": "#1a1a1a", "labelPadding": 21, "labelOffset": 2, "labelOverlap": false, "labelFlush": false, "labelBound": false,
      "grid": true, "gridColor": "#a0a0a0", "gridWidth": 1,
      "tickColor": "#a0a0a0", "tickSize": 6, "domainColor": "#8c8c8c",
      "title": "Date", "titleFontSize": 15, "titleFontWeight": "bold", "titleColor": "#1a1a1a",
      "titleX": 489, "titleY": 109, "titleAlign": "center", "titleBaseline": "middle"}},
  "y": {"field": "v", "type": "quantitative",
    "scale": {"domain": [0, 180], "nice": false},
    "axis": {"values": [0,10,20,30,40,50,60,70,80,90,100,110,120,130,140,150,160,170,180],
      "labelFontSize": 15, "labelColor": "#1a1a1a", "labelPadding": 6, "labelFlush": false,
      "grid": true, "gridColor": "#a0a0a0", "gridWidth": 1,
      "tickColor": "#a0a0a0", "tickSize": 6, "domainColor": "#8c8c8c",
      "title": "Groundwater Elevation, NAVD88 (ft.)", "titleFontSize": 15, "titleFontWeight": "bold", "titleColor": "#1a1a1a",
      "titleX": -56, "titleY": 293, "titleAngle": -90, "titleAlign": "center", "titleBaseline": "middle"}},
  "color": {"field": "w", "type": "nominal",
    "scale": {"domain": ["MW-1s","MW-2s","MW-3d","MW-5s","MW-7s","MW-9s","MW-10","MW-1d","MW-2d","MW-5d","MW-7d","MW-8","MW-9d","MW-11"],
      "range": ["#e6f000","#7030a0","#2e75b6","#5b9bd5","#808080","#ff33cc","#a5672f","#bf8f00","#00b050","#ed7d31","#548235","#00ffff","#cc99ff","#d6006f"]},
    "legend": {"orient": "none", "legendX": 500, "legendY": 67, "columns": 2, "title": null,
      "symbolType": "M-3,0H3", "symbolSize": 144, "symbolStrokeWidth": 3, "symbolOffset": 10.5,
      "labelOffset": 13, "labelFontSize": 15, "labelColor": "#1a1a1a", "labelLimit": 0,
      "fillColor": "white", "padding": 12, "rowPadding": 7.3, "columnPadding": 37}},
  "detail": {"field": "s", "type": "nominal"}
}
}
